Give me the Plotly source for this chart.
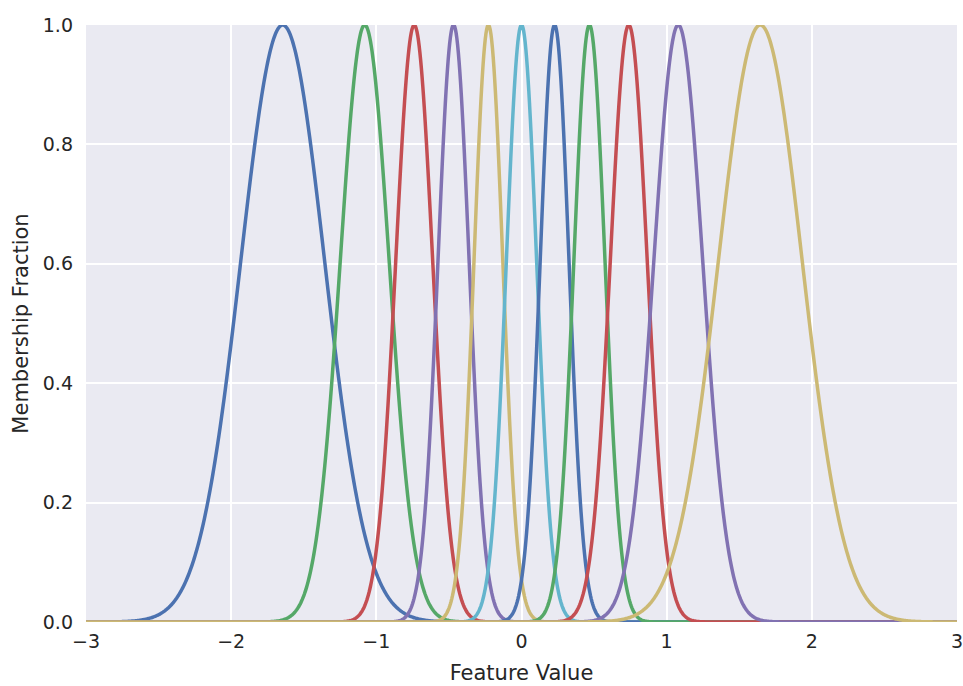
import numpy as np
import plotly.graph_objects as go

# Gaussian membership functions: centers and widths
centers = [-1.645, -1.080, -0.739, -0.468, -0.228, 0.0, 0.228, 0.468, 0.739, 1.080, 1.645]
sigmas = [0.288, 0.168, 0.127, 0.107, 0.099, 0.104, 0.099, 0.107, 0.127, 0.168, 0.288]
colors = ["#4C72B0", "#55A868", "#C44E52", "#8172B2", "#CCB974", "#64B5CD",
          "#4C72B0", "#55A868", "#C44E52", "#8172B2", "#CCB974"]
x_ticks = [-3, -2, -1, 0, 1, 2, 3]
x_tick_labels = ["\u22123", "\u22122", "\u22121", "0", "1", "2", "3"]
y_ticks = [0.0, 0.2, 0.4, 0.6, 0.8, 1.0]
y_tick_labels = ["0.0", "0.2", "0.4", "0.6", "0.8", "1.0"]

xs = np.linspace(-3, 3, 1201)

fig = go.Figure()
for c, s, col in zip(centers, sigmas, colors):
    ys = np.exp(-0.5 * ((xs - c) / s) ** 2)
    fig.add_trace(go.Scatter(x=xs, y=ys, mode="lines",
                             line=dict(color=col, width=3.5, simplify=False),
                             showlegend=False, hoverinfo="skip"))

fig.update_layout(
    width=963, height=686,
    margin=dict(l=86, r=6, t=25, b=64, autoexpand=False),
    plot_bgcolor="#EAEAF2", paper_bgcolor="white",
    font=dict(family="DejaVu Sans", size=19, color="#262626"),
    xaxis=dict(range=[-3, 3], tickvals=x_ticks, ticktext=x_tick_labels,
               showgrid=True, gridcolor="white", gridwidth=1.5, zeroline=False,
               showline=False, ticks="", tickfont=dict(size=19),
               ticklabelstandoff=6, ticklabeloverflow="allow", automargin=False,
               title=dict(text="Feature Value", font=dict(size=21), standoff=14)),
    yaxis=dict(range=[0, 1], tickvals=y_ticks, ticktext=y_tick_labels,
               showgrid=True, gridcolor="white", gridwidth=1.5, zeroline=False,
               showline=False, ticks="", tickfont=dict(size=19),
               ticklabelstandoff=12, ticklabeloverflow="allow", automargin=False,
               title=dict(text="Membership Fraction", font=dict(size=21), standoff=8)),
)
fig.write_html("out.html")
